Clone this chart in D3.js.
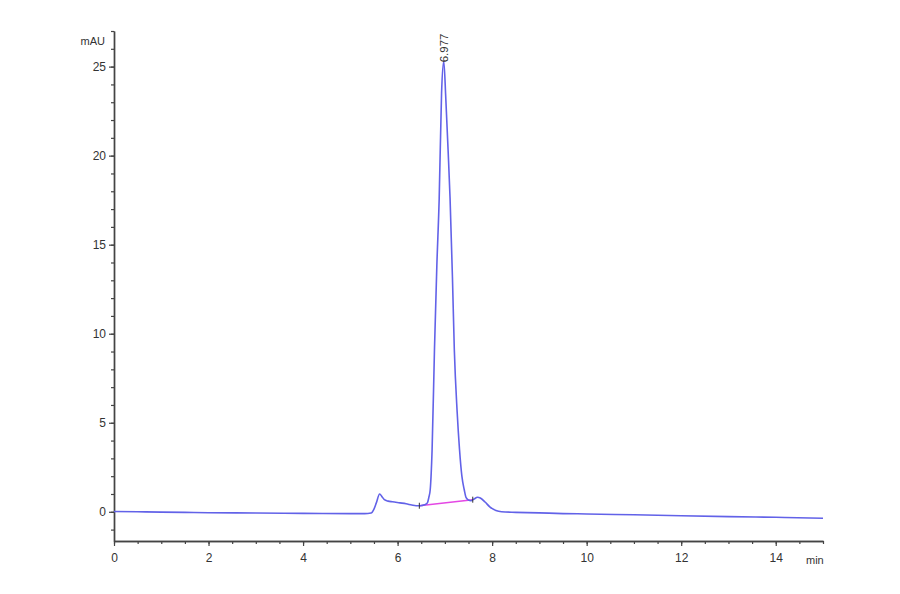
<!DOCTYPE html>
<html>
<head>
<meta charset="utf-8">
<script src="https://cdn.jsdelivr.net/npm/d3@7"></script>
<style>
  body { margin: 0; background: #fff; }
  svg text { font-family: "Liberation Sans", Arial, sans-serif; fill: #333; }
</style>
</head>
<body>
<svg id="chart" width="900" height="594"></svg>
<script>
// retention time (min) and signal (mAU)
const times = [0, 0.5, 1, 1.5, 2, 3, 4, 5, 5.3, 5.44, 5.5, 5.55, 5.62, 5.67, 5.72, 5.8, 5.89, 6.05, 6.18, 6.3, 6.39, 6.48, 6.57, 6.63, 6.66, 6.69, 6.73, 6.78, 6.83, 6.88, 6.93, 6.977, 7.02, 7.07, 7.11, 7.16, 7.2, 7.26, 7.31, 7.36, 7.41, 7.45, 7.5, 7.55, 7.62, 7.69, 7.75, 7.85, 7.95, 8.08, 8.2, 8.5, 9, 9.5, 10, 11, 12, 13, 14, 15];
const signal = [0.02, 0.0, -0.02, -0.03, -0.05, -0.07, -0.09, -0.1, -0.1, -0.07, 0.15, 0.5, 1.0, 0.85, 0.68, 0.6, 0.56, 0.5, 0.45, 0.38, 0.34, 0.34, 0.39, 0.5, 0.8, 1.24, 3.5, 9.1, 13.8, 17.6, 23.5, 25.3, 23.2, 20.2, 17.6, 13.2, 9.1, 5.6, 3.5, 2.0, 1.24, 0.79, 0.66, 0.62, 0.72, 0.82, 0.78, 0.55, 0.28, 0.07, 0.0, -0.03, -0.06, -0.1, -0.12, -0.17, -0.22, -0.27, -0.31, -0.36];

// integration baseline of the main peak
const baseT = [6.46, 7.59];
const baseV = [0.34, 0.68];

const peakTime = 6.977;
const peakLabel = "6.977";

const xMajor = [0, 2, 4, 6, 8, 10, 12, 14];
const yMajor = [0, 5, 10, 15, 20, 25];

const margin = { top: 31, right: 77, bottom: 53, left: 114 };
const width = 900, height = 594;

const x = d3.scaleLinear().domain([0, 15]).range([margin.left, width - margin.right]);
const y = d3.scaleLinear().domain([-1.64, 27]).range([height - margin.bottom, margin.top]);

const svg = d3.select("#chart");

// minor ticks
const xMinor = d3.range(0, 15.01, 0.5);
const yMinor = d3.range(-1, 27.01, 1);

const xAxis = g => g.attr("transform", `translate(0,${y.range()[0]})`)
  .call(d3.axisBottom(x).tickValues(xMajor).tickSize(5).tickSizeOuter(0).tickPadding(7));
const yAxis = g => g.attr("transform", `translate(${margin.left},0)`)
  .call(d3.axisLeft(y).tickValues(yMajor).tickSize(5).tickSizeOuter(0).tickPadding(3));

svg.append("g").attr("class", "minor")
  .attr("transform", `translate(0,${y.range()[0]})`)
  .call(d3.axisBottom(x).tickValues(xMinor).tickSize(3).tickSizeOuter(0).tickFormat(""));
svg.append("g").attr("class", "minor")
  .attr("transform", `translate(${margin.left},0)`)
  .call(d3.axisLeft(y).tickValues(yMinor).tickSize(3).tickSizeOuter(0).tickFormat(""));

svg.append("g").call(xAxis);
svg.append("g").call(yAxis);

svg.selectAll(".domain").attr("stroke", "#444").attr("stroke-width", 1.4);
svg.selectAll(".tick line").attr("stroke", "#444").attr("stroke-width", 1.2);
svg.selectAll(".tick text").attr("font-size", 12).attr("fill", "#333")
  .style("font-family", "'Liberation Sans', Arial, sans-serif");

svg.append("text").attr("x", 105).attr("y", 45).attr("text-anchor", "end")
  .attr("font-size", 11).text("mAU");
svg.append("text").attr("x", 806).attr("y", 564)
  .attr("font-size", 11).text("min");

const pts = times.map((t, i) => [t, signal[i]]);
const line = d3.line().x(d => x(d[0])).y(d => y(d[1])).curve(d3.curveMonotoneX);

svg.append("path").datum(baseT.map((t, i) => [t, baseV[i]]))
  .attr("d", d3.line().x(d => x(d[0])).y(d => y(d[1])))
  .attr("stroke", "#e448e4").attr("stroke-width", 1.6).attr("fill", "none");

svg.append("path").datum(pts)
  .attr("d", line)
  .attr("fill", "none")
  .attr("stroke", "#6262e8")
  .attr("stroke-width", 1.6);

// integration markers
svg.selectAll(".mark").data(baseT.map((t, i) => [t, baseV[i]])).join("line")
  .attr("x1", d => x(d[0])).attr("x2", d => x(d[0]))
  .attr("y1", d => y(d[1]) - 3).attr("y2", d => y(d[1]) + 3)
  .attr("stroke", "#333").attr("stroke-width", 1);

svg.append("text")
  .attr("transform", `translate(${x(peakTime) + 4},${y(25.3) + 1}) rotate(-90)`)
  .attr("font-size", 11.5).text(peakLabel);
</script>
</body>
</html>
